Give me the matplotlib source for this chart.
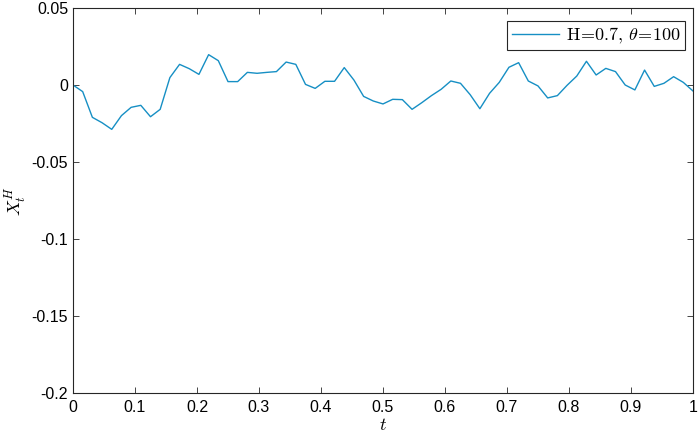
import numpy as np
import matplotlib
matplotlib.use("Agg")
import matplotlib.pyplot as plt

# fBm sample path, 65 points on [0, 1]
t = np.linspace(0, 1, 65)
x_h = [
    0.0, -0.0043, -0.0210, -0.0245, -0.0288, -0.0199, -0.0145, -0.0132,
    -0.0206, -0.0158, 0.0048, 0.0134, 0.0106, 0.0069, 0.0197, 0.0158,
    0.0022, 0.0022, 0.0082, 0.0076, 0.0082, 0.0087, 0.0149, 0.0134,
    0.0004, -0.0022, 0.0024, 0.0024, 0.0113, 0.0032, -0.0074, -0.0104,
    -0.0123, -0.0093, -0.0095, -0.0158, -0.0115, -0.0069, -0.0028, 0.0026,
    0.0011, -0.0063, -0.0154, -0.0054, 0.0017, 0.0115, 0.0145, 0.0026,
    -0.0006, -0.0084, -0.0069, -0.0002, 0.0058, 0.0154, 0.0065, 0.0108,
    0.0087, 0.0000, -0.0032, 0.0097, -0.0009, 0.0011, 0.0054, 0.0017,
    -0.0039,
]
x_ticks = [0, 0.1, 0.2, 0.3, 0.4, 0.5, 0.6, 0.7, 0.8, 0.9, 1]
x_ticklabels = ["0", "0.1", "0.2", "0.3", "0.4", "0.5", "0.6", "0.7", "0.8", "0.9", "1"]
y_ticks = [-0.2, -0.15, -0.1, -0.05, 0, 0.05]
y_ticklabels = ["-0.2", "-0.15", "-0.1", "-0.05", "0", "0.05"]

plt.rcParams.update({
    "font.family": "Liberation Sans",
    "mathtext.fontset": "cm",
    "axes.edgecolor": "#262626",
    "axes.linewidth": 0.8,
})

fig = plt.figure(figsize=(6.99, 4.37), dpi=100)
ax = fig.add_axes([73 / 699, 1 - 393 / 437, 620 / 699, 385 / 437])

ax.plot(t, x_h, color="#168fc4", linewidth=1.0,
        label=r"$\mathrm{H}\!=\!0.7,\,\theta\!=\!100$")

ax.set_xlim(0, 1)
ax.set_ylim(-0.2, 0.05)
ax.set_xticks(x_ticks)
ax.set_xticklabels(x_ticklabels)
ax.set_yticks(y_ticks)
ax.set_yticklabels(y_ticklabels)
ax.tick_params(direction="in", length=4, width=0.6, labelsize=11.5,
               top=True, right=True, colors="#262626", labelcolor="black")
ax.tick_params(axis="x", pad=5)

ax.set_xlabel(r"$t$", fontsize=13, labelpad=1.5)
ax.set_ylabel(r"$X_t^H$", fontsize=13, labelpad=2)

leg = ax.legend(loc="upper right", bbox_to_anchor=(0.987, 0.966),
                fontsize=13, fancybox=False, framealpha=1,
                edgecolor="#262626", borderaxespad=0,
                handlelength=2.6, handletextpad=0.4, borderpad=0.25)
leg.get_frame().set_linewidth(0.8)

fig.savefig("out.png", dpi=100)
